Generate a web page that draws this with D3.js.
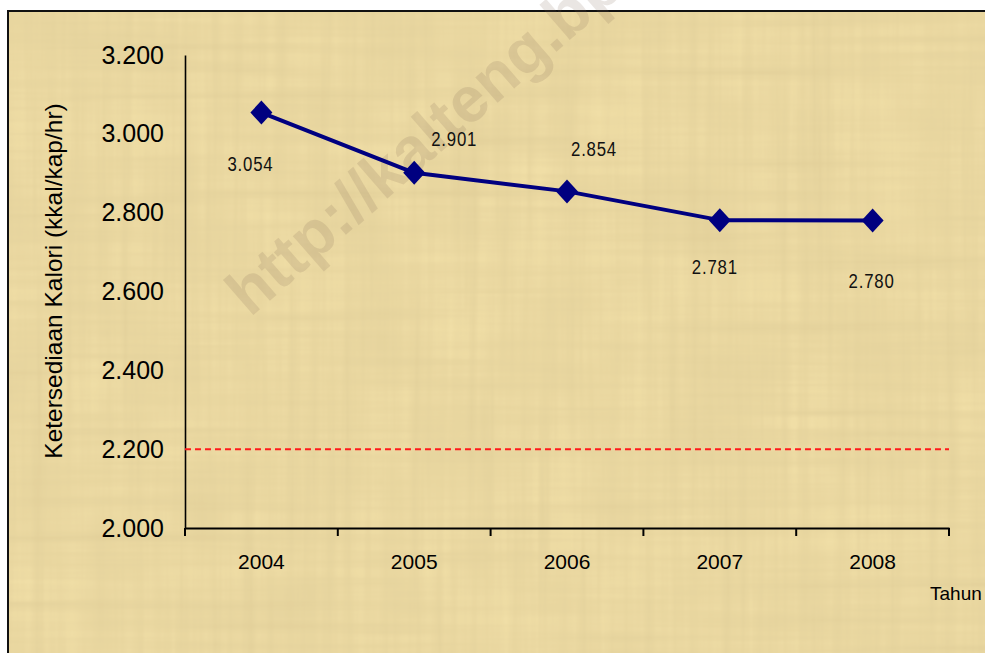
<!DOCTYPE html>
<html>
<head>
<meta charset="utf-8">
<script src="https://cdn.jsdelivr.net/npm/d3@7"></script>
<style>
  html, body { margin: 0; padding: 0; background: #ffffff; }
  svg { display: block; }
</style>
</head>
<body>
<svg id="chart" width="985" height="653"></svg>
<script>
// Ketersediaan kalori per kapita per hari, 2004-2008
const years = ["2004", "2005", "2006", "2007", "2008"];
const kalori = [3054, 2901, 2854, 2781, 2780];
const yTicks = [2000, 2200, 2400, 2600, 2800, 3000, 3200];
const batasNormal = 2200;   // garis acuan (putus-putus merah)
const yTitle = "Ketersediaan Kalori (kkal/kap/hr)";
const xTitle = "Tahun";
const watermark = "http://kalteng.bps.go.id";

// label placement around each point (dx, dy from the marker, in px)
const labelOffsets = [[-11, 58], [40, -27], [27, -35], [-5, 54], [-1, 67]];

const W = 985, H = 653;
const svg = d3.select("#chart");
const defs = svg.append("defs");

// papyrus-like fibrous texture
const f = defs.append("filter").attr("id", "papyrus")
  .attr("x", 0).attr("y", 0).attr("width", "100%").attr("height", "100%");
f.append("feTurbulence").attr("type", "fractalNoise")
  .attr("baseFrequency", "0.003 0.09").attr("numOctaves", 3).attr("seed", 4).attr("result", "n1");
f.append("feTurbulence").attr("type", "fractalNoise")
  .attr("baseFrequency", "0.09 0.003").attr("numOctaves", 3).attr("seed", 9).attr("result", "n2");
f.append("feTurbulence").attr("type", "fractalNoise")
  .attr("baseFrequency", "0.012 0.012").attr("numOctaves", 2).attr("seed", 2).attr("result", "n3");
f.append("feBlend").attr("in", "n1").attr("in2", "n2").attr("mode", "multiply").attr("result", "n12");
f.append("feBlend").attr("in", "n12").attr("in2", "n3").attr("mode", "multiply").attr("result", "nAll");
f.append("feColorMatrix").attr("in", "nAll").attr("type", "matrix")
  .attr("values", "0 0 0 0 0.62  0 0 0 0 0.50  0 0 0 0 0.25  -0.8 0 0 0 0.50")
  .attr("result", "tint");
f.append("feComposite").attr("in", "tint").attr("in2", "SourceGraphic").attr("operator", "atop");

// chart area frame
const frame = { x: 8, y: 11 };
svg.append("rect")
  .attr("x", frame.x).attr("y", frame.y)
  .attr("width", W - frame.x).attr("height", H - frame.y)
  .attr("fill", "#f0dea6")
  .attr("filter", "url(#papyrus)");
svg.append("path")
  .attr("d", `M${frame.x},${H} V${frame.y} H${W}`)
  .attr("fill", "none").attr("stroke", "#111").attr("stroke-width", 2);

// diagonal watermark
svg.append("text")
  .attr("transform", "translate(250,318) rotate(-41)")
  .attr("font-family", "Liberation Sans, Arial, sans-serif")
  .attr("font-weight", "bold").attr("font-size", 64)
  .attr("fill", "#7a6652").attr("fill-opacity", 0.16)
  .text(watermark);

// scales
const x = d3.scaleBand().domain(years).range([185, 949]).padding(0);
const y = d3.scaleLinear().domain([2000, 3200]).range([528, 55]);

const locale = d3.formatLocale({ decimal: ",", thousands: ".", grouping: [3], currency: ["Rp", ""] });
const fmt = locale.format(",");

// y axis
const yAxis = svg.append("g").attr("transform", `translate(${x.range()[0]},0)`)
  .call(d3.axisLeft(y).tickValues(yTicks).tickSize(0).tickPadding(21).tickFormat(fmt));
yAxis.select(".domain").attr("stroke", "#000").attr("stroke-width", 1.6);
yAxis.selectAll("text")
  .attr("font-family", "Liberation Sans, Arial, sans-serif")
  .attr("font-size", 25).attr("fill", "#000");

// x axis (labels centred in each category, ticks on category boundaries)
const xAxis = svg.append("g").attr("transform", `translate(0,${y(2000)})`)
  .call(d3.axisBottom(x).tickSize(0).tickPadding(26));
xAxis.select(".domain").attr("stroke", "#000").attr("stroke-width", 2);
xAxis.selectAll("text")
  .attr("font-family", "Liberation Sans, Arial, sans-serif")
  .attr("font-size", 21).attr("fill", "#000");
const bounds = years.map(d => x(d)).concat([x(years[years.length - 1]) + x.bandwidth()]);
xAxis.selectAll("line.bound").data(bounds).join("line")
  .attr("class", "bound")
  .attr("x1", d => d).attr("x2", d => d)
  .attr("y1", 0).attr("y2", 8)
  .attr("stroke", "#000").attr("stroke-width", 2);

// reference line
svg.append("line")
  .attr("x1", x.range()[0]).attr("x2", x.range()[1])
  .attr("y1", y(batasNormal)).attr("y2", y(batasNormal))
  .attr("stroke", "#ff1a1a").attr("stroke-width", 2)
  .attr("stroke-dasharray", "6,4");

// axis titles
svg.append("text")
  .attr("transform", `translate(62,281) rotate(-90)`)
  .attr("text-anchor", "middle")
  .attr("font-family", "Liberation Sans, Arial, sans-serif")
  .attr("font-size", 24.5).attr("fill", "#000")
  .text(yTitle);
svg.append("text")
  .attr("x", 930).attr("y", 600)
  .attr("font-family", "Liberation Sans, Arial, sans-serif")
  .attr("font-size", 19).attr("fill", "#000")
  .text(xTitle);

// series line
const pts = years.map((d, i) => ({ year: d, v: kalori[i], i }));
const cx = d => x(d.year) + x.bandwidth() / 2;
svg.append("path").datum(pts)
  .attr("d", d3.line().x(cx).y(d => y(d.v)))
  .attr("fill", "none").attr("stroke", "#000080").attr("stroke-width", 4)
  .attr("stroke-linejoin", "round");

// diamond markers
svg.selectAll("path.marker").data(pts).join("path")
  .attr("class", "marker")
  .attr("d", "M0,-12 L11,0 L0,12 L-11,0 Z")
  .attr("transform", d => `translate(${cx(d)},${y(d.v)})`)
  .attr("fill", "#000080");

// value labels (condensed figures)
svg.selectAll("text.val").data(pts).join("text")
  .attr("class", "val")
  .attr("transform", d =>
    `translate(${cx(d) + labelOffsets[d.i][0]},${y(d.v) + labelOffsets[d.i][1]}) scale(0.8,1)`)
  .attr("text-anchor", "middle")
  .attr("font-family", "Liberation Sans, Arial, sans-serif")
  .attr("font-size", 21).attr("letter-spacing", 1).attr("fill", "#111")
  .text(d => fmt(d.v));
</script>
</body>
</html>
